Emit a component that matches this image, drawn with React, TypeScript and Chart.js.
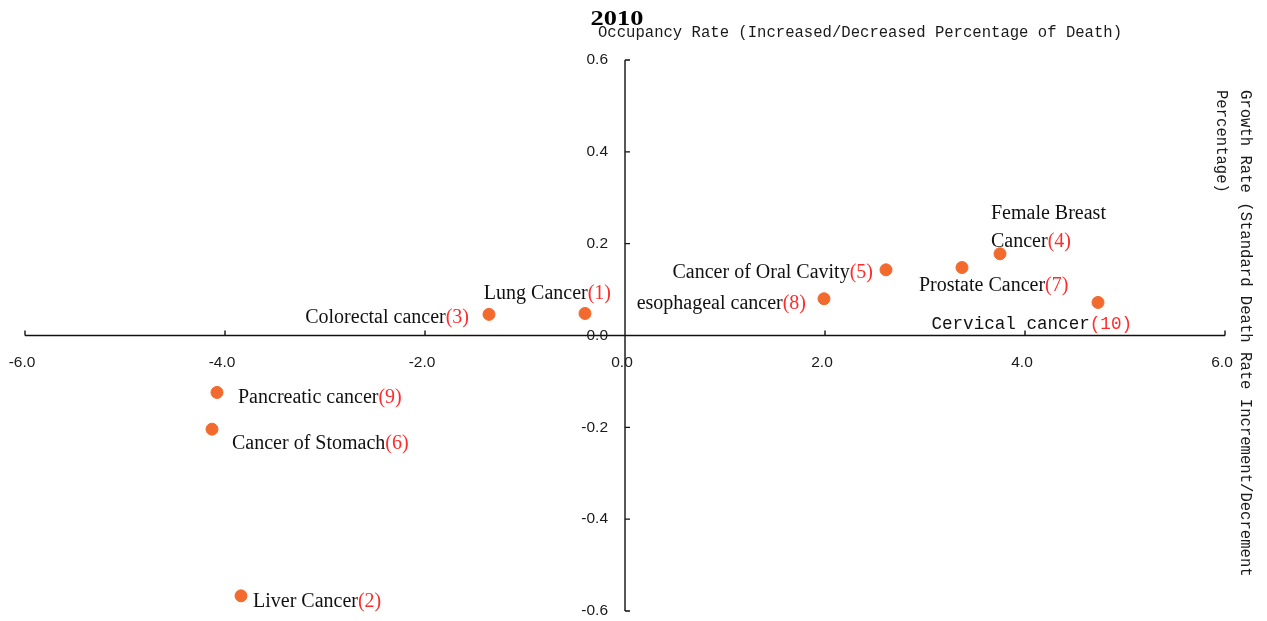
import React, { useEffect, useRef } from "react";
import { Chart, registerables } from "chart.js";

Chart.register(...registerables);

// ---- data ----
const cancerNames = [
  "Lung Cancer",
  "Liver Cancer",
  "Colorectal cancer",
  "Female Breast\nCancer",
  "Cancer of Oral Cavity",
  "Cancer of Stomach",
  "Prostate Cancer",
  "esophageal cancer",
  "Pancreatic cancer",
  "Cervical cancer",
];
const rankNumbers = [1, 2, 3, 4, 5, 6, 7, 8, 9, 10];
const occupancyRate = [-0.4, -3.84, -1.36, 3.75, 2.61, -4.13, 3.37, 1.99, -4.08, 4.73];
const growthRate = [0.048, -0.567, 0.046, 0.178, 0.143, -0.204, 0.148, 0.08, -0.124, 0.072];
const xTickValues = [-6, -4, -2, 0, 2, 4, 6];
const yTickValues = [-0.6, -0.4, -0.2, 0, 0.2, 0.4, 0.6];

const chartTitle = "2010";
const xAxisTitle = "Occupancy Rate (Increased/Decreased Percentage of Death)";
const yAxisTitleLines = [
  "Growth Rate (Standard Death Rate Increment/Decrement",
  "Percentage)",
];

// ---- label styles (pixel offsets relative to each point) ----
const labelAlign = ["right", "left", "right", "left", "right", "left", "left", "right", "left", "right"];
const labelDx = [26, 12, -20, -9, -13, 20, -43, -18, 21, 34];
const labelDy = [-20, 6, 3, -40, 3, 15, 18, 5, 5, 22];
const labelFontKind = ["serif", "serif", "serif", "serif", "serif", "serif", "serif", "serif", "serif", "mono"];

const SERIF = '20px "Liberation Serif", "Times New Roman", serif';
const MONO_LABEL = '17.6px "Liberation Mono", "Courier New", monospace';
const MONO_TITLE = '15.6px "Liberation Mono", "Courier New", monospace';
const TICK_FONT = '15.5px "Liberation Sans", Arial, sans-serif';

const overlayPlugin = {
  id: "overlay",
  beforeDraw(chart: any) {
    const ctx = chart.ctx;
    ctx.save();
    ctx.fillStyle = "#ffffff";
    ctx.fillRect(0, 0, chart.width, chart.height);
    ctx.restore();
  },
  beforeDatasetsDraw(chart: any) {
    const ctx = chart.ctx;
    const xs = chart.scales.x;
    const ys = chart.scales.y;
    const x0 = xs.getPixelForValue(0);
    const y0 = ys.getPixelForValue(0);
    const xl = xs.getPixelForValue(xTickValues[0]);
    const xr = xs.getPixelForValue(xTickValues[xTickValues.length - 1]);
    const yt = ys.getPixelForValue(yTickValues[yTickValues.length - 1]);
    const yb = ys.getPixelForValue(yTickValues[0]);
    ctx.save();
    ctx.strokeStyle = "#111";
    ctx.lineWidth = 1.4;
    ctx.beginPath();
    ctx.moveTo(xl, y0);
    ctx.lineTo(xr, y0);
    ctx.moveTo(x0, yt);
    ctx.lineTo(x0, yb);
    xTickValues.forEach((v) => {
      const px = xs.getPixelForValue(v);
      ctx.moveTo(px, y0);
      ctx.lineTo(px, y0 - 5);
    });
    yTickValues.forEach((v) => {
      const py = ys.getPixelForValue(v);
      ctx.moveTo(x0, py);
      ctx.lineTo(x0 + 5, py);
    });
    ctx.stroke();

    ctx.fillStyle = "#1a1a1a";
    ctx.font = TICK_FONT;
    ctx.textBaseline = "middle";
    ctx.textAlign = "center";
    xTickValues.forEach((v) => {
      const px = xs.getPixelForValue(v);
      ctx.fillText(v.toFixed(1), px - 3, y0 + 27);
    });
    ctx.textAlign = "right";
    yTickValues.forEach((v) => {
      const py = ys.getPixelForValue(v);
      ctx.fillText(v.toFixed(1), x0 - 17, py);
    });

    // titles
    ctx.fillStyle = "#000";
    ctx.save();
    ctx.font = 'bold 22px "Liberation Serif", "Times New Roman", serif';
    ctx.textAlign = "center";
    ctx.textBaseline = "middle";
    ctx.translate(617, 19);
    ctx.scale(1.2, 1);
    ctx.fillText(chartTitle, 0, 0);
    ctx.restore();

    ctx.fillStyle = "#1a1a1a";
    ctx.font = MONO_TITLE;
    ctx.textAlign = "left";
    ctx.textBaseline = "middle";
    ctx.fillText(xAxisTitle, 598, 33);

    ctx.save();
    ctx.translate(1245, 90);
    ctx.rotate(Math.PI / 2);
    ctx.textAlign = "left";
    ctx.textBaseline = "middle";
    yAxisTitleLines.forEach((line, i) => {
      ctx.fillText(line, 0, i * 24);
    });
    ctx.restore();
    ctx.restore();
  },
  afterDatasetsDraw(chart: any) {
    const ctx = chart.ctx;
    const meta = chart.getDatasetMeta(0);
    ctx.save();
    ctx.textBaseline = "middle";
    ctx.textAlign = "left";
    meta.data.forEach((pt: any, i: number) => {
      const font = labelFontKind[i] === "mono" ? MONO_LABEL : SERIF;
      ctx.font = font;
      const lines = cancerNames[i].split("\n");
      const num = "(" + rankNumbers[i] + ")";
      lines.forEach((line, li) => {
        const last = li === lines.length - 1;
        const wName = ctx.measureText(line).width;
        const wNum = last ? ctx.measureText(num).width : 0;
        const total = wName + wNum;
        let left = pt.x + labelDx[i];
        if (labelAlign[i] === "right") left = pt.x + labelDx[i] - total;
        const y = pt.y + labelDy[i] + li * 28;
        ctx.fillStyle = "#111";
        ctx.fillText(line, left, y);
        if (last) {
          ctx.fillStyle = "#ff2a2a";
          ctx.fillText(num, left + wName, y);
        }
      });
    });
    ctx.restore();
  },
};

export default function App() {
  const canvasRef = useRef<HTMLCanvasElement | null>(null);
  useEffect(() => {
    if (!canvasRef.current) return;
    const chart = new Chart(canvasRef.current, {
      type: "scatter",
      data: {
        datasets: [
          {
            data: occupancyRate.map((x, i) => ({ x, y: growthRate[i] })),
            backgroundColor: "#f26a2e",
            borderColor: "#f26a2e",
            pointRadius: 6,
            pointHoverRadius: 6,
          },
        ],
      },
      options: {
        responsive: false,
        animation: false,
        devicePixelRatio: 1,
        layout: { autoPadding: false, padding: { left: 25, right: 42, top: 60, bottom: 10 } },
        plugins: { legend: { display: false }, title: { display: false }, tooltip: { enabled: false } },
        events: [],
        scales: {
          x: { type: "linear", min: -6, max: 6, display: false },
          y: { type: "linear", min: -0.6, max: 0.6, display: false },
        },
      },
      plugins: [overlayPlugin],
    } as any);
    return () => chart.destroy();
  }, []);
  return (
    <div style={{ position: "fixed", left: 0, top: 0, width: 1267, height: 621, background: "#fff" }}>
      <canvas ref={canvasRef} width={1267} height={621} style={{ display: "block" }} />
    </div>
  );
}
